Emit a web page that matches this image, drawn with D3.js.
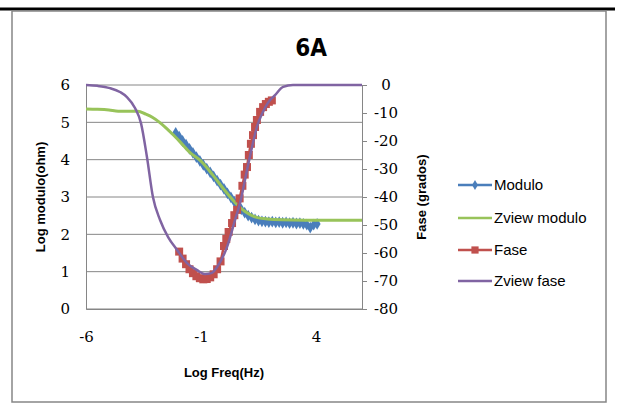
<!DOCTYPE html>
<html>
<head>
<meta charset="utf-8">
<script src="https://cdn.jsdelivr.net/npm/d3@7"></script>
<style>
  body { margin: 0; background: #fff; }
  svg { display: block; }
</style>
</head>
<body>
<svg id="chart" width="620" height="408"></svg>
<script>
// log freq vs log |Z| (left axis) and phase (right axis)
const moduloX = [-2.1, -1.95, -1.8, -1.65, -1.5, -1.35, -1.2, -1.05, -0.9, -0.75, -0.6, -0.45, -0.3, -0.15, 0.0, 0.15, 0.3, 0.45, 0.6, 0.75, 0.9, 1.05, 1.2, 1.35, 1.5, 1.65, 1.8, 1.95, 2.1, 2.25, 2.4, 2.55, 2.7, 2.85, 3.0, 3.15, 3.3, 3.45, 3.6, 3.75, 3.9, 4.05]
const moduloY = [4.72, 4.62, 4.50, 4.40, 4.29, 4.18, 4.07, 3.97, 3.86, 3.76, 3.66, 3.55, 3.44, 3.33, 3.22, 3.10, 2.99, 2.87, 2.77, 2.67, 2.58, 2.50, 2.45, 2.40, 2.37, 2.35, 2.34, 2.33, 2.34, 2.32, 2.33, 2.31, 2.32, 2.30, 2.31, 2.29, 2.30, 2.28, 2.26, 2.18, 2.26, 2.28]

const zModuloX = [-6, -5.5, -5.0, -4.6, -4.2, -3.75, -3.4, -3.1, -2.8, -2.5, -2.2, -1.9, -1.5, -1.0, -0.5, 0.0, 0.3, 0.6, 0.9, 1.2, 1.5, 1.9, 2.5, 3.5, 6]
const zModuloY = [5.36, 5.35, 5.33, 5.30, 5.30, 5.30, 5.22, 5.13, 5.0, 4.84, 4.66, 4.47, 4.20, 3.96, 3.60, 3.20, 2.98, 2.78, 2.62, 2.51, 2.44, 2.41, 2.39, 2.38, 2.38]

const faseX = [-1.95, -1.8, -1.65, -1.5, -1.35, -1.2, -1.05, -0.9, -0.75, -0.6, -0.45, -0.3, -0.15, 0.0, 0.1, 0.2, 0.35, 0.45, 0.57, 0.68, 0.8, 0.9, 1.0, 1.08, 1.17, 1.26, 1.35, 1.43, 1.57, 1.7, 1.82, 1.95, 2.08]
const faseY = [-59.5, -62, -64, -65.8, -67.2, -68.3, -69, -69.4, -69.3, -68.7, -67.6, -65.8, -63, -57.5, -55, -52.5, -49.3, -46.5, -44.6, -40.5, -36, -32, -29.3, -25, -21, -17.9, -15, -12.5, -9.6, -7.9, -6.8, -6.0, -5.5]

const zFaseX = [-6, -5.5, -4.96, -4.5, -4.22, -3.87, -3.61, -3.35, -3.09, -2.78, -2.43, -2.04, -1.61, -1.17, -0.83, -0.55, -0.3, 0.13, 0.48, 0.7, 1.0, 1.22, 1.43, 1.7, 1.91, 2.22, 2.57, 3.0, 6]
const zFaseY = [0, -0.3, -1.1, -2.6, -4.3, -8.2, -13.6, -25.7, -40, -48.2, -54.3, -58.9, -63.6, -66.1, -67.5, -67.2, -65, -57.9, -48.2, -42.1, -30.4, -22.1, -15, -9.5, -6.4, -3.6, -0.7, 0, 0]

const xTicks = [-6, -1, 4]
const leftTicks = [0, 1, 2, 3, 4, 5, 6]
const rightTicks = [0, -10, -20, -30, -40, -50, -60, -70, -80]
const legendNames = ['Modulo', 'Zview modulo', 'Fase', 'Zview fase']

const blue = '#4a7ebb', green = '#98c35a', red = '#c0504d', purple = '#8064a2'
const gray = '#868686'

const svg = d3.select('#chart')

const x = d3.scaleLinear().domain([-6, 6]).range([86, 362])
const yL = d3.scaleLinear().domain([0, 6]).range([309, 85])
const yR = d3.scaleLinear().domain([-80, 0]).range([309, 85])

// page rule + chart frame
svg.append('line').attr('x1', 0).attr('x2', 615).attr('y1', 9).attr('y2', 9)
  .attr('stroke', '#000').attr('stroke-width', 3)
svg.append('rect').attr('x', 12).attr('y', 11).attr('width', 594).attr('height', 391)
  .attr('fill', '#fff').attr('stroke', gray).attr('stroke-width', 1.5)

svg.append('text').attr('x', 311).attr('y', 56).attr('text-anchor', 'middle')
  .style('font', 'bold 24px "Liberation Sans Narrow", "DejaVu Sans Condensed", "Liberation Sans", sans-serif')
  .text('6A')

// gridlines
svg.append('g').selectAll('line').data(leftTicks).enter().append('line')
  .attr('x1', x(-6)).attr('x2', x(6))
  .attr('y1', d => yL(d)).attr('y2', d => yL(d))
  .attr('stroke', gray).attr('stroke-width', 1)

const tickFont = '15px "DejaVu Serif", serif'
const plain = d => String(d)

const gLeft = svg.append('g').attr('transform', `translate(${x(-6)},0)`)
  .call(d3.axisLeft(yL).tickValues(leftTicks).tickSize(0).tickPadding(16).tickFormat(plain))
gLeft.select('.domain').attr('stroke', gray)
gLeft.selectAll('text').style('font', tickFont).attr('fill', '#000')

const gRight = svg.append('g').attr('transform', `translate(${x(6)},0)`)
  .call(d3.axisRight(yR).tickValues(rightTicks).tickSize(5).tickFormat(plain))
gRight.select('.domain').attr('stroke', gray)
gRight.selectAll('line').attr('stroke', gray)
gRight.selectAll('text').style('font', tickFont).attr('fill', '#000')
  .attr('x', 24).attr('text-anchor', 'middle')

const gBottom = svg.append('g').attr('transform', `translate(0,${yL(0)})`)
  .call(d3.axisBottom(x).tickValues(xTicks).tickSize(0).tickPadding(22).tickFormat(plain))
gBottom.select('.domain').attr('stroke', gray)
gBottom.selectAll('text').style('font', tickFont).attr('fill', '#000')

const titleFont = 'bold 13px "Liberation Sans", sans-serif'
svg.append('text').attr('transform', 'translate(45,197) rotate(-90)').attr('text-anchor', 'middle')
  .style('font', titleFont).text('Log modulo(ohm)')
svg.append('text').attr('transform', 'translate(426,197) rotate(-90)').attr('text-anchor', 'middle')
  .style('font', titleFont).text('Fase (grados)')
svg.append('text').attr('x', 224).attr('y', 377).attr('text-anchor', 'middle')
  .style('font', titleFont).text('Log Freq(Hz)')

// series
const lineL = d3.line().x(d => x(d[0])).y(d => yL(d[1])).curve(d3.curveMonotoneX)
const lineR = d3.line().x(d => x(d[0])).y(d => yR(d[1])).curve(d3.curveMonotoneX)

const modulo = d3.zip(moduloX, moduloY)
const zModulo = d3.zip(zModuloX, zModuloY)
const fase = d3.zip(faseX, faseY)
const zFase = d3.zip(zFaseX, zFaseY)

const diamond = d3.symbol(d3.symbolDiamond, 40)
const square = d3.symbol(d3.symbolSquare, 64)

svg.append('path').datum(modulo).attr('d', lineL)
  .attr('fill', 'none').attr('stroke', blue).attr('stroke-width', 2.5)
svg.append('g').selectAll('path').data(modulo).enter().append('path')
  .attr('d', diamond).attr('transform', d => `translate(${x(d[0])},${yL(d[1])})`)
  .attr('fill', blue)

svg.append('path').datum(zModulo).attr('d', lineL)
  .attr('fill', 'none').attr('stroke', green).attr('stroke-width', 3)

svg.append('path').datum(fase).attr('d', lineR)
  .attr('fill', 'none').attr('stroke', red).attr('stroke-width', 2.5)
svg.append('g').selectAll('path').data(fase).enter().append('path')
  .attr('d', square).attr('transform', d => `translate(${x(d[0])},${yR(d[1])})`)
  .attr('fill', red)

svg.append('path').datum(zFase).attr('d', lineR)
  .attr('fill', 'none').attr('stroke', purple).attr('stroke-width', 2.5)

// legend
const legendColors = [blue, green, red, purple]
const legendSymbols = [d3.symbol(d3.symbolDiamond, 30), null, d3.symbol(d3.symbolSquare, 52), null]
const legendY = [185, 218, 250, 281]
const lg = svg.append('g').selectAll('g').data(legendNames).enter().append('g')
  .attr('transform', (d, i) => `translate(458,${legendY[i]})`)
lg.append('line').attr('x1', 0).attr('x2', 34)
  .attr('stroke', (d, i) => legendColors[i]).attr('stroke-width', 2.5)
lg.filter(d => legendSymbols[legendNames.indexOf(d)]).append('path')
  .attr('d', d => legendSymbols[legendNames.indexOf(d)]())
  .attr('transform', 'translate(17,0)')
  .attr('fill', d => legendColors[legendNames.indexOf(d)])
lg.append('text').attr('x', 36).attr('dy', '0.35em')
  .style('font', '15px "Liberation Sans", sans-serif').text(d => d)
</script>
</body>
</html>
